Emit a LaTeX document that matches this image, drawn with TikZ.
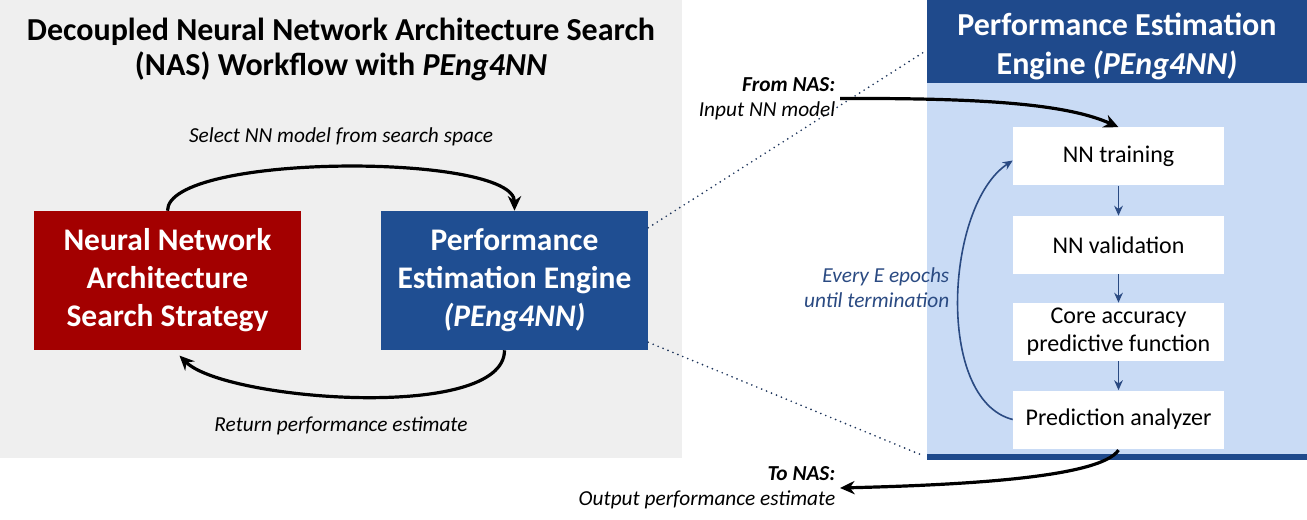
\documentclass[tikz,border=0pt]{standalone}
\usepackage{fontspec}
\setmainfont{Carlito}
\usetikzlibrary{arrows.meta,positioning}

\definecolor{panelgray}{HTML}{EFEFEF}
\definecolor{nasred}{HTML}{A30000}
\definecolor{engblue}{HTML}{1F4E92}
\definecolor{headblue}{HTML}{1F4A8C}
\definecolor{bodyblue}{HTML}{C9DBF5}
\definecolor{loopblue}{HTML}{2A4A82}

\begin{document}
\begin{tikzpicture}[x=0.75pt, y=-0.75pt, >=Stealth,
    bigbox/.style={text=white, align=center, minimum width=200.25pt, minimum height=104.25pt,
      font=\bfseries\fontsize{23.6}{28.5}\selectfont},
    stepbox/.style={fill=white, align=center, minimum width=158.25pt, minimum height=43.5pt,
      font=\fontsize{18}{21}\selectfont},
    label/.style={font=\itshape\fontsize{16}{18.75}\selectfont},
    bigarrow/.style={-{Stealth[length=11pt,width=10pt]}, line width=2.4pt},
    smallarrow/.style={-{Stealth[length=7.5pt,width=6.5pt]}, line width=1.2pt, loopblue},
    zoomline/.style={loopblue!70!black, line width=1.4pt, line cap=round, dash pattern=on 0pt off 4pt}]
  \useasboundingbox (0,0) rectangle (1307,520);

  % Left panel: the NAS loop
  \fill[panelgray] (0,0) rectangle (682,458);
  \node[align=center, font=\bfseries\fontsize{24}{26.25}\selectfont] (title) at (341,49)
    {Decoupled Neural Network Architecture Search\\(NAS) Workflow with \textit{PEng4NN}};
  \node[bigbox, fill=nasred] (strategy) at (167.5,280.5) {Neural Network\\Architecture\\Search Strategy};
  \node[bigbox, fill=engblue] (engine) at (514.5,280.5) {Performance\\Estimation Engine\\\textit{(PEng4NN)}};

  \draw[bigarrow] (strategy.north) .. controls +(0,-58) and +(0,-58) .. (engine.north);
  \node[label] (select) at (341,137) {Select NN model from search space};
  \draw[bigarrow] ([xshift=-7.5pt]engine.south) .. controls +(0,72) and +(45,45) .. ([xshift=9pt,yshift=-4pt]strategy.south);
  \node[label] (return) at (341,426) {Return performance estimate};

  % Right panel: inside the engine
  \fill[bodyblue] (927,83) rectangle (1307,454);
  \fill[headblue] (927,0) rectangle (1307,83);
  \fill[headblue] (927,454) rectangle (1307,460);
  \node[text=white, align=center, font=\bfseries\fontsize{24}{29.25}\selectfont] (head) at (1117,46)
    {Performance Estimation\\Engine \textit{(PEng4NN)}};

  \node[stepbox] (training) at (1118.5,156.5) {NN training};
  \node[stepbox] (validation) at (1118.5,245) {NN validation};
  \node[stepbox] (core) at (1118.5,332) {Core accuracy\\predictive function};
  \node[stepbox] (analyzer) at (1118.5,419.5) {Prediction analyzer};

  \draw[smallarrow] (training) -- (validation);
  \draw[smallarrow] (validation) -- (core);
  \draw[smallarrow] (core) -- (analyzer);
  \draw[smallarrow] (analyzer.west) .. controls (935,400) and (945,205) .. ([yshift=-3pt]training.west);
  \node[label, text=loopblue, align=right, anchor=east] (every) at (954,288) {Every E epochs\\until termination};

  % Zoom lines
  \coordinate (hdtop) at (924,52);
  \coordinate (hdbot) at (924,456);
  \draw[zoomline] ([yshift=-12.75pt]engine.north east) -- (hdtop);
  \draw[zoomline] ([yshift=6pt]engine.south east) -- (hdbot);

  % In and out of the engine
  \node[label, align=right, anchor=east] (fromnas) at (840,98.5) {\textbf{From NAS:}\\Input NN model};
  \draw[bigarrow] (fromnas.east) .. controls (975,98) and (1065,103) .. (training.north);
  \node[label, align=right, anchor=east] (tonas) at (840,488) {\textbf{To NAS:}\\Output performance estimate};
  \draw[bigarrow] ([yshift=-1pt]analyzer.south) .. controls (1100,478) and (960,485) .. (tonas.east);
\end{tikzpicture}
\end{document}
